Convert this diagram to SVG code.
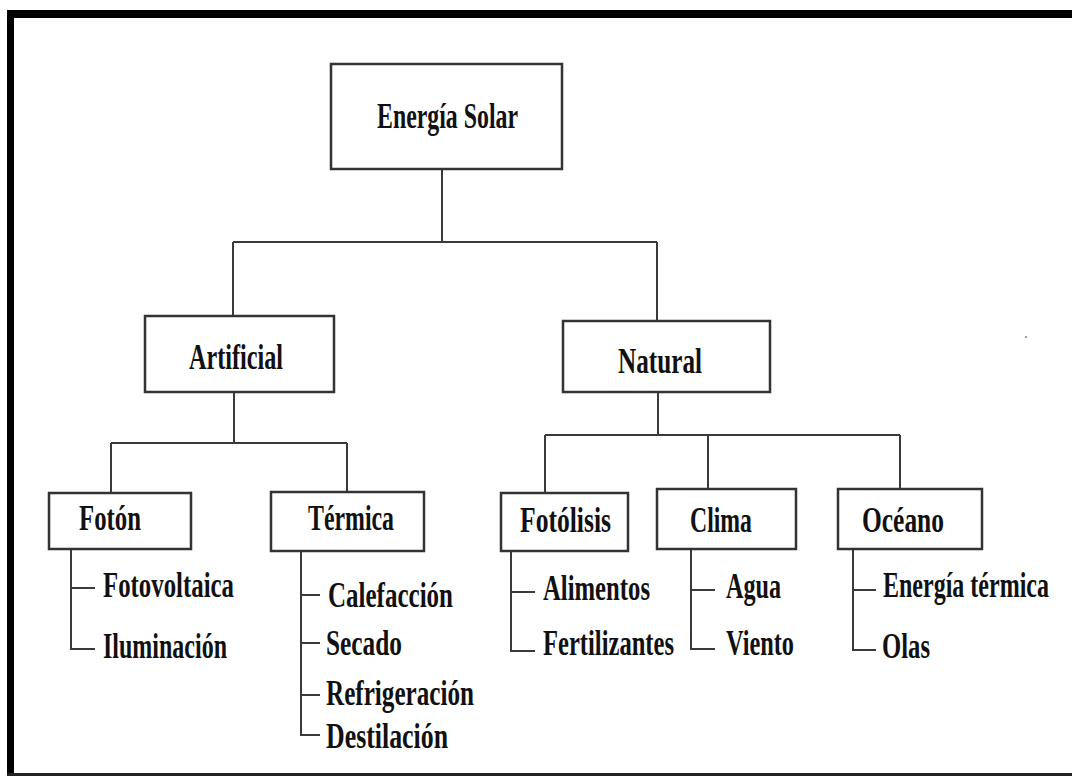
<svg xmlns="http://www.w3.org/2000/svg" width="1072" height="776" viewBox="0 0 1072 776">
<style>
.box{fill:#fff;stroke:#333;stroke-width:2.5}
.ln{fill:none;stroke:#3a3a3a;stroke-width:2}
.t{font-family:"Liberation Serif","DejaVu Serif","Times New Roman",serif;font-size:36px;font-weight:bold;fill:#111}
</style>
<rect x="0" y="0" width="1072" height="776" fill="#fff"/>
<rect x="7" y="10" width="1065" height="8" fill="#000"/>
<rect x="7" y="10" width="7" height="766" fill="#000"/>
<rect x="7" y="773" width="1065" height="3" fill="#222"/>
<circle cx="1026" cy="337" r="1" fill="#777"/>
<g id="connectors" class="ln">
<path d="M442 169V242M233 242H657M233 242V316M657 242V321"/>
<path d="M234 392V443M111 443H347M111 443V493M347 443V492"/>
<path d="M658 392V435M545 435H900M545 435V493M708 435V489M900 435V489"/>
<path d="M71 549V649H95M71 588H95"/>
<path d="M301 551V735H320M301 595H320M301 643H320M301 695H320"/>
<path d="M511 551V651H535M511 592H535"/>
<path d="M691 549V649H715M691 590H715"/>
<path d="M853 549V650H876M853 590H876"/>
</g>
<g id="energia-solar"><rect class="box" x="331" y="64" width="231" height="105"/><text class="t" x="377" y="128" textLength="141" lengthAdjust="spacingAndGlyphs" font-size="34">Energía Solar</text></g>
<g id="artificial"><rect class="box" x="145" y="316" width="189" height="76"/><text class="t" x="189" y="369" textLength="94" lengthAdjust="spacingAndGlyphs">Artificial</text></g>
<g id="natural"><rect class="box" x="563" y="321" width="207" height="71"/><text class="t" x="618" y="373" textLength="84" lengthAdjust="spacingAndGlyphs">Natural</text></g>
<g id="foton"><rect class="box" x="49" y="493" width="142" height="56"/><text class="t" x="79" y="530" textLength="62" lengthAdjust="spacingAndGlyphs">Fotón</text></g>
<g id="termica"><rect class="box" x="271" y="492" width="153" height="59"/><text class="t" x="308" y="530" textLength="86" lengthAdjust="spacingAndGlyphs">Térmica</text></g>
<g id="fotolisis"><rect class="box" x="501" y="493" width="127" height="58"/><text class="t" x="520" y="532" textLength="91" lengthAdjust="spacingAndGlyphs">Fotólisis</text></g>
<g id="clima"><rect class="box" x="657" y="489" width="139" height="60"/><text class="t" x="690" y="532" textLength="62" lengthAdjust="spacingAndGlyphs">Clima</text></g>
<g id="oceano"><rect class="box" x="838" y="489" width="144" height="60"/><text class="t" x="862" y="532" textLength="82" lengthAdjust="spacingAndGlyphs">Océano</text></g>
<g id="fotovoltaica"><text class="t" x="103" y="597" textLength="131" lengthAdjust="spacingAndGlyphs">Fotovoltaica</text></g>
<g id="iluminacion"><text class="t" x="103" y="658" textLength="124" lengthAdjust="spacingAndGlyphs">Iluminación</text></g>
<g id="calefaccion"><text class="t" x="328" y="607" textLength="125" lengthAdjust="spacingAndGlyphs">Calefacción</text></g>
<g id="secado"><text class="t" x="326" y="655" textLength="76" lengthAdjust="spacingAndGlyphs">Secado</text></g>
<g id="refrigeracion"><text class="t" x="326" y="705" textLength="148" lengthAdjust="spacingAndGlyphs">Refrigeración</text></g>
<g id="destilacion"><text class="t" x="326" y="748" textLength="122" lengthAdjust="spacingAndGlyphs">Destilación</text></g>
<g id="alimentos"><text class="t" x="543" y="600" textLength="107" lengthAdjust="spacingAndGlyphs">Alimentos</text></g>
<g id="fertilizantes"><text class="t" x="543" y="655" textLength="131" lengthAdjust="spacingAndGlyphs">Fertilizantes</text></g>
<g id="agua"><text class="t" x="726" y="598" textLength="55" lengthAdjust="spacingAndGlyphs">Agua</text></g>
<g id="viento"><text class="t" x="726" y="655" textLength="68" lengthAdjust="spacingAndGlyphs">Viento</text></g>
<g id="energia-termica"><text class="t" x="883" y="597" textLength="166" lengthAdjust="spacingAndGlyphs">Energía térmica</text></g>
<g id="olas"><text class="t" x="882" y="658" textLength="48" lengthAdjust="spacingAndGlyphs">Olas</text></g>
</svg>
